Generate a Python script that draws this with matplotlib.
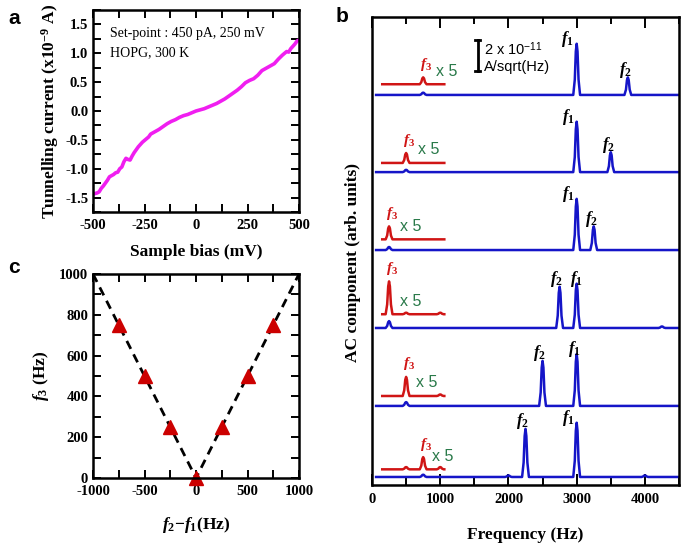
import matplotlib
matplotlib.use("Agg")
import matplotlib.pyplot as plt
from matplotlib.ticker import MultipleLocator

plt.rcParams['font.family'] = ['Liberation Serif', 'DejaVu Serif']
plt.rcParams['mathtext.fontset'] = 'custom'
plt.rcParams['mathtext.rm'] = 'Liberation Serif:bold'
plt.rcParams['mathtext.bf'] = 'Liberation Serif:bold'
plt.rcParams['mathtext.it'] = 'Liberation Serif:italic:bold'

# ---------------- data ----------------
# panel a: I-V curve
bias_mV = [-500, -490, -480, -470, -460, -450, -440, -430, -420, -410, -400, -390, -380, -370,
           -360, -350, -340, -330, -320, -310, -300, -290, -280, -270, -260, -250, -240, -230,
           -220, -210, -200, -180, -160, -140, -120, -100, -80, -60, -40, -20, 0, 20, 40, 60,
           80, 100, 120, 140, 160, 180, 200, 220, 240, 260, 280, 300, 320, 340, 360, 380, 400,
           420, 440, 450, 460, 470, 480, 490, 500]
current_nA = [-1.44, -1.43, -1.42, -1.40, -1.34, -1.30, -1.25, -1.20, -1.14, -1.12, -1.10, -1.07,
              -1.06, -1.00, -0.97, -0.88, -0.82, -0.84, -0.85, -0.78, -0.72, -0.67, -0.62, -0.58,
              -0.54, -0.51, -0.48, -0.45, -0.40, -0.38, -0.36, -0.32, -0.27, -0.22, -0.18, -0.15,
              -0.11, -0.08, -0.06, -0.03, 0.00, 0.02, 0.04, 0.07, 0.10, 0.13, 0.17, 0.21, 0.26,
              0.31, 0.36, 0.42, 0.49, 0.53, 0.56, 0.62, 0.70, 0.74, 0.78, 0.82, 0.90, 0.97, 1.03,
              1.02, 1.08, 1.12, 1.16, 1.21, 1.23]

# panel b: spectra (bottom trace first)
f1_Hz = 3000
f2_Hz = [2250, 2500, 2750, 3250, 3500, 3750]
f3_Hz = [750, 500, 250, 250, 500, 750]
h_f1 = [0.71, 0.68, 0.58, 0.67, 0.66, 0.67]
h_f2 = [0.63, 0.59, 0.54, 0.31, 0.26, 0.23]
h_f3_blue = [0.03, 0.05, 0.09, 0.04, 0.03, 0.03]
h_f3_red = [0.16, 0.25, 0.43, 0.17, 0.13, 0.09]
extra_blue = [[(2000, 0.02), (4000, 0.02)], [], [(4250, 0.02)], [], [], []]
extra_red = [[(500, 0.03), (1000, 0.03)], [(1000, 0.02)], [(500, 0.02), (1000, 0.02)], [], [], []]

# panel c
f2_minus_f1 = [-750, -500, -250, 0, 250, 500, 750]
f3_meas = [750, 500, 250, 0, 250, 500, 750]
guide_x = [-1000, 0, 1000]
guide_y = [1000, 0, 1000]

# ---------------- figure ----------------
W, H = 685, 547
fig = plt.figure(figsize=(W / 100, H / 100), dpi=100)


def ax_px(l, t, r, b):
    return fig.add_axes([l / W, 1 - b / H, (r - l) / W, (b - t) / H])


lab_font = dict(fontsize=12.5, fontweight='bold')
TICK_FS = 10.5


def style(ax):
    for s in ax.spines.values():
        s.set_linewidth(1.8)
    ax.tick_params(which='both', direction='in', top=True, right=True, width=1.4)
    ax.tick_params(which='major', length=6, labelsize=TICK_FS, pad=5)
    ax.tick_params(axis='y', which='major', pad=3.5)
    ax.tick_params(which='minor', length=6)
    for lab in ax.get_xticklabels() + ax.get_yticklabels():
        lab.set_fontweight('bold')


# panel a
axa = ax_px(93, 10, 299, 212)
axa.plot(bias_mV, current_nA, color='#f01ef0', lw=2.6)
axa.set_xlim(-500, 500)
axa.set_ylim(-1.75, 1.75)
axa.xaxis.set_minor_locator(MultipleLocator(125))
axa.yaxis.set_minor_locator(MultipleLocator(0.25))
axa.set_yticks([-1.5, -1.0, -0.5, 0.0, 0.5, 1.0, 1.5])
axa.set_yticklabels(['-1.5', '-1.0', '-0.5', '0.0', '0.5', '1.0', '1.5'])
axa.set_xticks([-500, -250, 0, 250, 500])
axa.set_xticklabels(['-500', '-250', '0', '250', '500'])
style(axa)
axa.set_xlabel('Sample bias (mV)', **lab_font, labelpad=9)
axa.set_ylabel(r'Tunnelling current (x10$^{\mathbf{-9}}$ A)', **lab_font, labelpad=3)
axa.text(-418, 1.35, 'Set-point : 450 pA, 250 mV', fontsize=10, va='center')
axa.text(-418, 1.01, 'HOPG, 300 K', fontsize=10, va='center')

# panel c
axc = ax_px(93, 274, 299, 478)
axc.plot(guide_x, guide_y, ls=(0, (3.2, 2.2)), color='black', lw=2)
axc.plot(f2_minus_f1, f3_meas, ls='none', marker='^', ms=10, color='#cc0000', clip_on=False)
axc.set_xlim(-1000, 1000)
axc.set_ylim(0, 1000)
axc.set_xticks([-1000, -500, 0, 500, 1000])
axc.set_xticklabels(['-1000', '-500', '0', '500', '1000'])
axc.xaxis.set_minor_locator(MultipleLocator(250))
axc.yaxis.set_major_locator(MultipleLocator(200))
axc.yaxis.set_minor_locator(MultipleLocator(100))
style(axc)
axc.set_xlabel(r'$\mathit{f}_{\mathit{2}}\mathrm{-}\mathit{f}_{\mathit{1}}$(Hz)', **lab_font, labelpad=12)
axc.set_ylabel(r'$\mathit{f}_{\mathit{3}}$ (Hz)', **lab_font, labelpad=6)

# panel b
axb = ax_px(372, 17, 679, 485)
offsets = [0, 0.93, 1.95, 2.97, 3.99, 5.0]
red_off = [0.10, 0.13, 0.18, 0.14, 0.12, 0.14]
blue_c = '#1515c8'
red_c = '#d01515'
green_c = '#2a7a4a'
hw = 50
shape_dx = [-1.0, -0.55, -0.25, 0.0, 0.25, 0.55, 1.0]
shape_fy = [0.0, 0.3, 0.85, 1.0, 0.85, 0.3, 0.0]


def polyline(x0, x1, peaks):
    xs, ys = [x0], [0.0]
    for c, h in sorted(peaks):
        xs += [c + d * hw for d in shape_dx]
        ys += [h * f for f in shape_fy]
    xs.append(x1)
    ys.append(0.0)
    return xs, ys


x5_left = [880, 650, 410, 410, 680, 940]
f1_lab_x = [2880, 2960, 2990, 2880, 2880, 2870]
for i in range(6):
    off = offsets[i]
    bpk = [(f1_Hz, h_f1[i]), (f2_Hz[i], h_f2[i]), (f3_Hz[i], h_f3_blue[i])] + extra_blue[i]
    xs, ys = polyline(60, 4500, bpk)
    axb.plot(xs, [y + off for y in ys], color=blue_c, lw=1.8, solid_joinstyle='round')
    rpk = [(f3_Hz[i], h_f3_red[i])] + extra_red[i]
    xs, ys = polyline(150, 1060, rpk)
    ro = off + red_off[i]
    axb.plot(xs, [y + ro for y in ys], color=red_c, lw=1.8, solid_joinstyle='round')
    axb.text(f1_lab_x[i], off + h_f1[i] + 0.06, r'$\mathit{f}_{\mathit{1}}$',
             fontsize=12, ha='center', va='center', color='black')
    axb.text(f2_Hz[i] - 40, off + h_f2[i] + 0.1, r'$\mathit{f}_{\mathit{2}}$',
             fontsize=12, ha='center', va='center', color='black')
    axb.text(f3_Hz[i] + 40, ro + h_f3_red[i] + 0.17, r'$\mathit{f}_{\mathit{3}}$',
             fontsize=11, ha='center', va='center', color=red_c)
    axb.text(x5_left[i], ro + 0.17, 'x 5', fontsize=11.5, ha='left', va='center',
             color=green_c, family='Liberation Sans')

# scale bar
axb.plot([1550, 1550], [5.31, 5.72], color='black', lw=2)
axb.plot([1510, 1590], [5.72, 5.72], color='black', lw=2)
axb.plot([1510, 1590], [5.31, 5.31], color='black', lw=2)
axb.text(1640, 5.6, r'2 x 10$^{\mathregular{-11}}$', fontsize=10.5, family='Liberation Sans', va='center')
axb.text(1640, 5.37, 'A/sqrt(Hz)', fontsize=10.5, family='Liberation Sans', va='center')

axb.set_xlim(0, 4500)
axb.set_ylim(-0.105, 6.02)
axb.set_xticks([0, 1000, 2000, 3000, 4000])
axb.xaxis.set_minor_locator(MultipleLocator(500))
axb.set_yticks([])
for s in axb.spines.values():
    s.set_linewidth(1.8)
axb.tick_params(which='both', direction='in', top=True, width=1.4)
axb.tick_params(which='major', length=8, labelsize=TICK_FS, pad=6)
axb.tick_params(which='minor', length=5)
for lab in axb.get_xticklabels():
    lab.set_fontweight('bold')
axb.set_xlabel('Frequency (Hz)', **lab_font, labelpad=15)
axb.set_ylabel('AC component (arb. units)', **lab_font, labelpad=8)
axb.yaxis.label.set_y(0.475)

# panel letters
for x, y, t in [(8, 18, 'a'), (336, 16, 'b'), (8, 268, 'c')]:
    fig.text(x / W, 1 - y / H, t, fontsize=15, fontweight='bold', family='Liberation Sans',
             va='center', ha='left')

fig.savefig('out.png', dpi=100)
